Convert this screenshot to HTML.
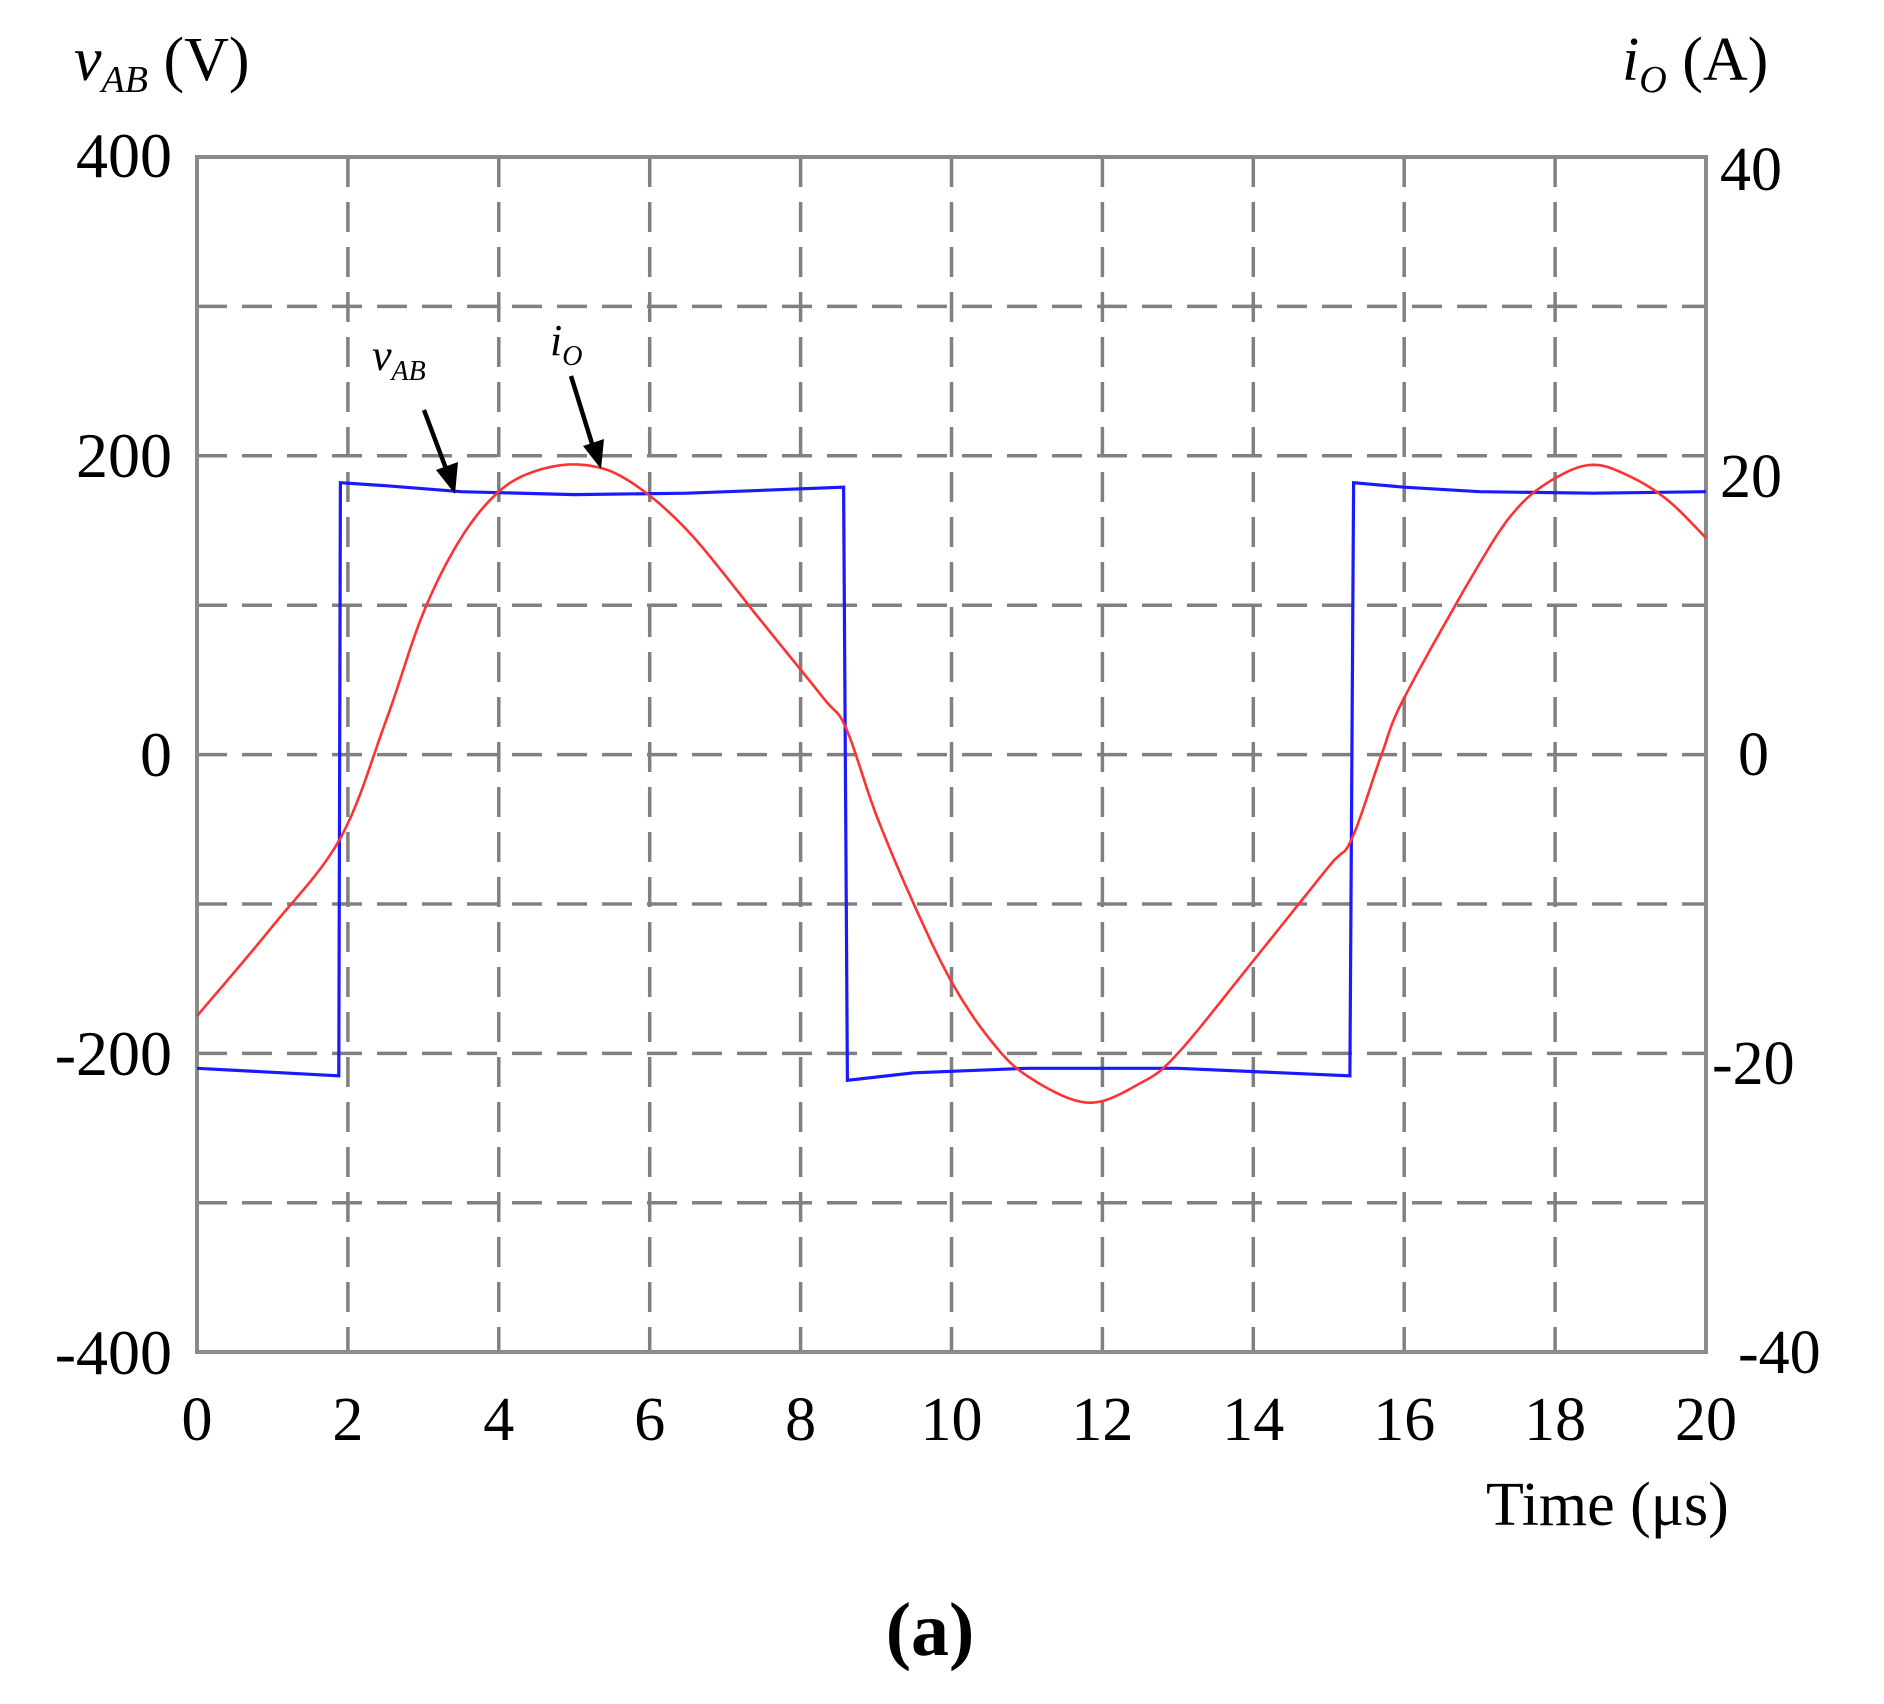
<!DOCTYPE html>
<html><head><meta charset="utf-8"><style>
html,body{margin:0;padding:0;background:#fff;}
svg{display:block;}
text{font-family:"Liberation Serif",serif;fill:#000;}
</style></head><body>
<svg id="s" width="1884" height="1704" viewBox="0 0 1884 1704" xmlns="http://www.w3.org/2000/svg">
<g id="grid" stroke="#808080" stroke-width="3.5" stroke-dasharray="30,15" fill="none"></g>
<rect x="197" y="157" width="1509" height="1195" fill="none" stroke="#8a8a8a" stroke-width="4"/>
<path id="blue" fill="none" stroke="#1a1aff" stroke-width="3.2"/>
<path id="red" fill="none" stroke="#ff3333" stroke-width="2.6"/>
<g font-size="64" text-anchor="end">
<text x="172" y="177">400</text>
<text x="172" y="477">200</text>
<text x="172" y="776">0</text>
<text x="172" y="1075">-200</text>
<text x="172" y="1374">-400</text>
</g>
<g font-size="62" text-anchor="start">
<text x="1720" y="190">40</text>
<text x="1720" y="497">20</text>
<text x="1738" y="775">0</text>
<text x="1712" y="1084">-20</text>
<text x="1738" y="1373">-40</text>
</g>
<g id="xl" font-size="62" text-anchor="middle"></g>
<text x="1486" y="1525" font-size="62">Time (μs)</text>
<text x="74" y="80" font-size="62"><tspan font-style="italic">v</tspan><tspan font-style="italic" font-size="38" dy="12">AB</tspan><tspan dy="-12"> (V)</tspan></text>
<text x="1622" y="80" font-size="62"><tspan font-style="italic">i</tspan><tspan font-style="italic" font-size="38" dy="12">O</tspan><tspan dy="-12"> (A)</tspan></text>
<text x="930" y="1655" font-size="76" font-weight="bold" text-anchor="middle">(a)</text>
<text x="372" y="370" font-size="44"><tspan font-style="italic">v</tspan><tspan font-style="italic" font-size="28" dy="10">AB</tspan></text>
<text x="550" y="355" font-size="44"><tspan font-style="italic">i</tspan><tspan font-style="italic" font-size="28" dy="10">O</tspan></text>
<g stroke="#000" stroke-width="4.5"><line x1="424" y1="410" x2="448" y2="474"/><line x1="571" y1="376" x2="594" y2="450"/></g>
<polygon points="455,494 436,470 458,462" fill="#000"/>
<polygon points="601,469 583,446 604,439" fill="#000"/>
</svg>
<script>
var X=function(t){return 197+75.45*t},Y=function(v){return 754.6-1.494*v};
var g=document.getElementById('grid'),h='';
for(var k=1;k<10;k++){var x=X(2*k);h+='<line x1="'+x+'" y1="157" x2="'+x+'" y2="1352"/>';}
for(var k=1;k<8;k++){var y=157+149.4*k;h+='<line x1="197" y1="'+y+'" x2="1706" y2="'+y+'"/>';}
g.innerHTML=h;
var xl='';for(var k=0;k<=10;k++)xl+='<text x="'+X(2*k)+'" y="1440">'+(2*k)+'</text>';
document.getElementById('xl').innerHTML=xl;
var b=[[0,-210],[1.88,-215],[1.9,182],[2.5,180],[3.5,176],[5,174],[6.5,175],[8.57,179],[8.62,-218],[9.5,-213],[11,-210],[13,-210],[15.28,-215],[15.33,182],[16,179],[17,176],[18.5,175],[20,176]];
document.getElementById('blue').setAttribute('d',b.map(function(p,i){return (i?'L':'M')+X(p[0]).toFixed(1)+','+Y(p[1]).toFixed(1)}).join(''));
var r=[[0,-175],[1,-115],[1.9,-56],[2.5,22],[3,95],[3.5,145],[4,176],[4.5,190],[5.1,194],[5.7,184],[6.5,150],[7.5,88],[8.3,38],[8.6,18],[9,-40],[9.5,-100],[10,-152],[10.5,-190],[11,-215],[11.8,-233],[12.5,-220],[13,-200],[14,-138],[15,-75],[15.3,-57],[15.7,0],[16,38],[17,128],[17.5,165],[18,185],[18.5,194],[19,186],[19.5,170],[20,145]];
var d='M'+X(r[0][0])+','+Y(r[0][1]);
for(var i=0;i<r.length-1;i++){var p0=r[Math.max(0,i-1)],p1=r[i],p2=r[i+1],p3=r[Math.min(r.length-1,i+2)];
for(var s=1;s<=10;s++){var u=s/10,u2=u*u,u3=u2*u;
var f=function(a,b,c,e){return 0.5*((2*b)+(-a+c)*u+(2*a-5*b+4*c-e)*u2+(-a+3*b-3*c+e)*u3)};
d+='L'+X(f(p0[0],p1[0],p2[0],p3[0])).toFixed(1)+','+Y(f(p0[1],p1[1],p2[1],p3[1])).toFixed(1);}}
document.getElementById('red').setAttribute('d',d);
</script>
</body></html>
